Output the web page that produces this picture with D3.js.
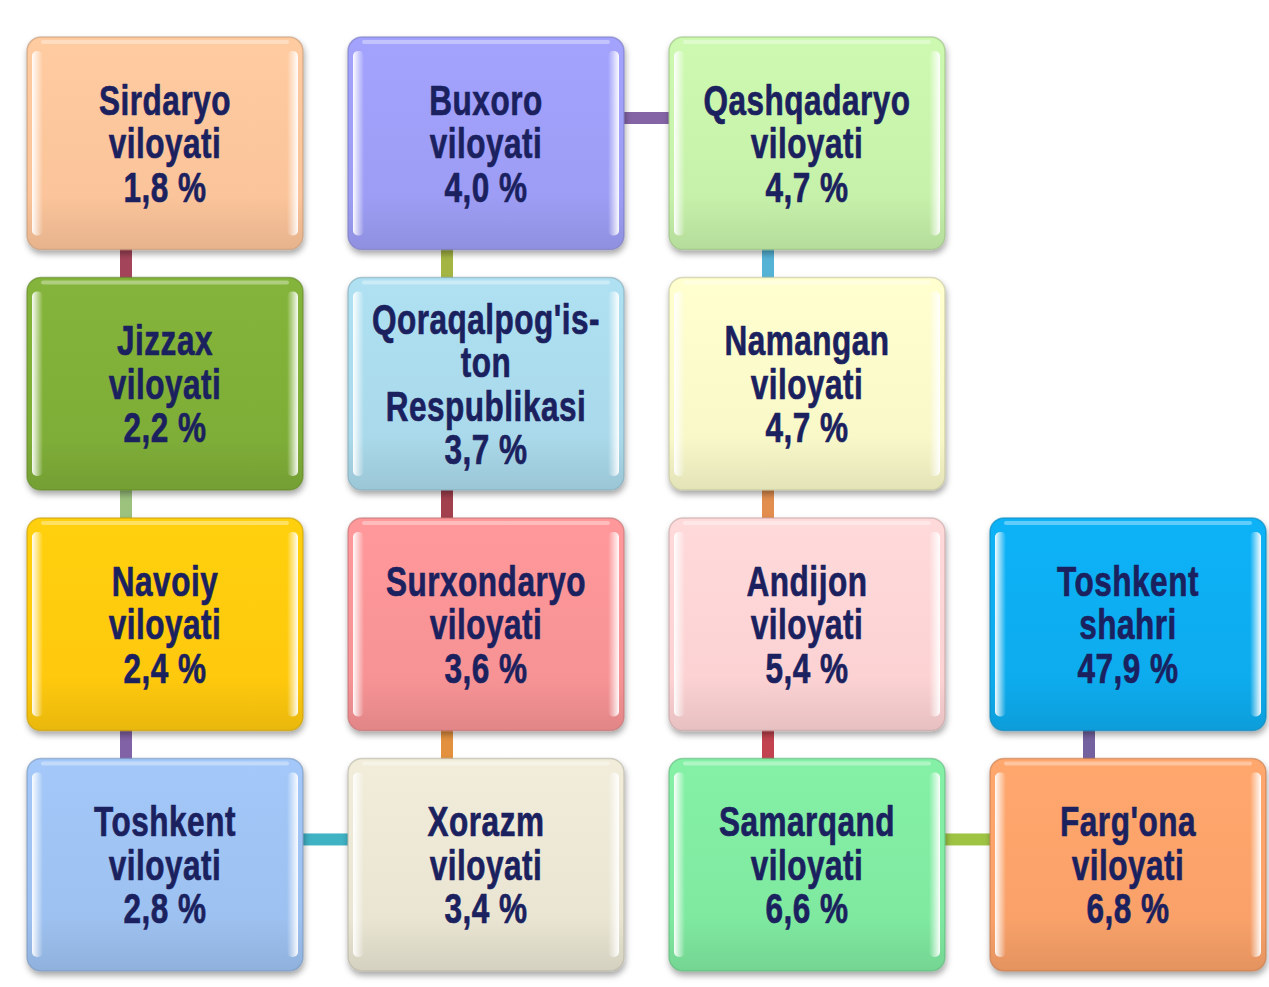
<!DOCTYPE html>
<html>
<head>
<meta charset="utf-8">
<script src="https://cdn.jsdelivr.net/npm/d3@7"></script>
<style>
  body { margin: 0; background: #fff; }
</style>
</head>
<body>
<div class="canvas"></div>
<script>
/**
 * Data (snake order: down col 1, up col 2, down col 3, up col 4)
 */
const regions = [
    ["Sirdaryo", "viloyati"],
    ["Jizzax", "viloyati"],
    ["Navoiy", "viloyati"],
    ["Toshkent", "viloyati"],
    ["Xorazm", "viloyati"],
    ["Surxondaryo", "viloyati"],
    ["Qoraqalpog'is-", "ton", "Respublikasi"],
    ["Buxoro", "viloyati"],
    ["Qashqadaryo", "viloyati"],
    ["Namangan", "viloyati"],
    ["Andijon", "viloyati"],
    ["Samarqand", "viloyati"],
    ["Farg'ona", "viloyati"],
    ["Toshkent", "shahri"]
]
const shares = [1.8, 2.2, 2.4, 2.8, 3.4, 3.6, 3.7, 4.0, 4.7, 4.7, 5.4, 6.6, 6.8, 47.9]

const boxColors = ["#fbc49a", "#7fae38", "#ffc90a", "#9dc1f0", "#e9e5d2", "#f79395", "#a9d9ea",
    "#9d9df5", "#c6f1aa", "#f8f8c9", "#fcd2d3", "#7fe9a0", "#f9a169", "#0cacee"]
const linkColors = ["#a4445a", "#9cc27e", "#8262a6", "#3fb2c4", "#e3913f", "#a3404e",
    "#a5b543", "#8564a6", "#55b3d6", "#e28e4f", "#c2434f", "#9fc444", "#7462a0"]

/**
 * Dimensions
 */
const dims = { width: 1269, height: 987 }
const svg = d3.select(".canvas")
    .append("svg")
    .attr("width", dims.width)
    .attr("height", dims.height)

const x = d3.scaleBand().domain([0, 1, 2, 3]).range([27, 1266]).paddingInner(45 / 321)
const y = d3.scaleBand().domain([0, 1, 2, 3]).range([37, 971]).paddingInner(28 / 241)
const bw = x.bandwidth(), bh = y.bandwidth()

const nodes = shares.map((v, i) => {
    const col = Math.floor(i / 4)
    const row = col % 2 === 0 ? i % 4 : 3 - i % 4
    return { lines: regions[i], value: v, color: boxColors[i], col, row, x: x(col), y: y(row) }
})

/**
 * Defs: shadow + gradients
 */
const defs = svg.append("defs")
const shadow = defs.append("filter").attr("id", "shadow")
    .attr("x", "-10%").attr("y", "-10%").attr("width", "120%").attr("height", "125%")
shadow.append("feDropShadow").attr("dx", 1).attr("dy", 4).attr("stdDeviation", 3)
    .attr("flood-color", "#000").attr("flood-opacity", 0.35)

const hl = defs.append("linearGradient").attr("id", "hlLeft")
hl.append("stop").attr("offset", "0%").attr("stop-color", "#fff").attr("stop-opacity", 0.95)
hl.append("stop").attr("offset", "100%").attr("stop-color", "#fff").attr("stop-opacity", 0)
const hr = defs.append("linearGradient").attr("id", "hlRight")
hr.append("stop").attr("offset", "0%").attr("stop-color", "#fff").attr("stop-opacity", 0)
hr.append("stop").attr("offset", "100%").attr("stop-color", "#fff").attr("stop-opacity", 0.95)

nodes.forEach((d, i) => {
    const g = defs.append("linearGradient").attr("id", `fill${i}`)
        .attr("x1", 0).attr("y1", 0).attr("x2", 0).attr("y2", 1)
    g.append("stop").attr("offset", "0%").attr("stop-color", d3.color(d.color).brighter(0.1))
    g.append("stop").attr("offset", "75%").attr("stop-color", d.color)
    g.append("stop").attr("offset", "100%").attr("stop-color", d3.color(d.color).darker(0.25))
})

/**
 * Links between consecutive boxes
 */
const links = d3.pairs(nodes)
svg.selectAll(".link")
    .data(links)
    .enter()
    .append("rect")
    .attr("class", "link")
    .attr("fill", (d, i) => linkColors[i])
    .each(function ([a, b]) {
        const el = d3.select(this)
        if (a.col === b.col) {
            const top = Math.min(a.y, b.y) + bh
            el.attr("x", a.x + 93).attr("width", 12)
                .attr("y", top - 4).attr("height", Math.abs(a.y - b.y) - bh + 8)
        } else {
            el.attr("x", a.x + bw - 4).attr("width", b.x - a.x - bw + 8)
                .attr("y", a.y + 75).attr("height", 12)
        }
    })

/**
 * Boxes
 */
const box = svg.selectAll(".node")
    .data(nodes)
    .enter()
    .append("g")
    .attr("class", "node")
    .attr("transform", d => `translate(${d.x}, ${d.y})`)

box.append("rect")
    .attr("width", bw).attr("height", bh)
    .attr("rx", 14)
    .attr("fill", (d, i) => `url(#fill${i})`)
    .attr("stroke", d => d3.color(d.color).darker(0.7))
    .attr("stroke-opacity", 0.6)
    .attr("stroke-width", 1.5)
    .attr("filter", "url(#shadow)")

// bevel highlights
box.append("rect")
    .attr("x", 5).attr("y", 14).attr("width", 11).attr("height", bh - 28).attr("rx", 5)
    .attr("fill", "url(#hlLeft)")
box.append("rect")
    .attr("x", bw - 16).attr("y", 14).attr("width", 11).attr("height", bh - 28).attr("rx", 5)
    .attr("fill", "url(#hlRight)")
box.append("rect")
    .attr("x", 14).attr("y", 3).attr("width", bw - 28).attr("height", 4).attr("rx", 2)
    .attr("fill", "#fff").attr("opacity", 0.35)

// labels (condensed bold look via horizontal squeeze)
const lineH = 43.5
box.each(function (d) {
    const lines = [...d.lines, `${d.value.toFixed(1).replace(".", ",")} %`]
    const t0 = bh / 2 - (lines.length - 1) * lineH / 2
    d3.select(this).selectAll("text")
        .data(lines)
        .enter()
        .append("text")
        .attr("transform", (l, k) => `translate(${bw / 2}, ${t0 + k * lineH}) scale(0.83, 1.1)`)
        .attr("dy", "0.36em")
        .attr("text-anchor", "middle")
        .attr("font-family", "'Liberation Sans', Arial, sans-serif")
        .attr("font-weight", "bold")
        .attr("font-size", 38)
        .attr("letter-spacing", 0.6)
        .attr("fill", "#1a215e")
        .attr("stroke", "#1a215e")
        .attr("stroke-width", 0.6)
        .attr("stroke-linejoin", "round")
        .text(l => l)
})
</script>
</body>
</html>
